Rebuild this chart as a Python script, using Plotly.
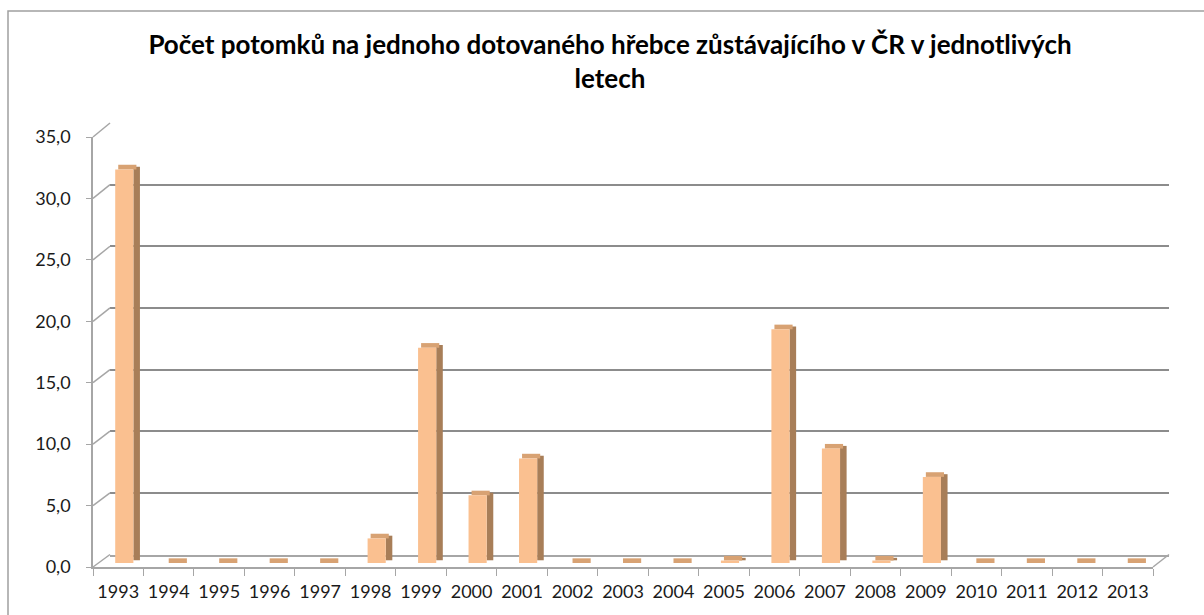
import plotly.graph_objects as go

# ---- data ----
years = ["1993", "1994", "1995", "1996", "1997", "1998", "1999", "2000", "2001", "2002",
         "2003", "2004", "2005", "2006", "2007", "2008", "2009", "2010", "2011", "2012", "2013"]
values = [32.0, 0, 0, 0, 0, 2.0, 17.5, 5.5, 8.5, 0, 0, 0, 0.2, 19.0, 9.3, 0.2, 7.0, 0, 0, 0, 0]
y_ticks = [0, 5, 10, 15, 20, 25, 30, 35]
title = "Počet potomků na jednoho dotovaného hřebce zůstávajícího v ČR v jednotlivých<br>letech"

W, H = 1204, 615
def fx(p):
    return p / W
def fy(p):
    return 1 - p / H

FRONT = "#FAC090"
SIDE = "#A87E58"
TOP = "#D8A273"
GRID = "#8C8C8C"
AXIS = "#A6A6A6"
FONT = "Lato"

n = len(years)
fig = go.Figure()

# back-wall grid subplot (x / y)
fig.add_trace(go.Scatter(x=years, y=values, mode="markers", marker=dict(opacity=0),
                         showlegend=False, hoverinfo="skip", xaxis="x", yaxis="y"))

# bars subplot (x2 / y2)
fig.add_trace(go.Bar(x=years, y=values, base=[0.22] * n, width=0.13, offset=0.30,
                     marker=dict(color=SIDE, line=dict(width=0)), showlegend=False,
                     hoverinfo="skip", xaxis="x2", yaxis="y2"))
fig.add_trace(go.Bar(x=years, y=[0.38] * n, base=values, width=0.36, offset=0.0,
                     marker=dict(color=TOP, line=dict(width=0)), showlegend=False,
                     hoverinfo="skip", xaxis="x2", yaxis="y2"))
fig.add_trace(go.Bar(x=years, y=values, width=0.36, offset=-0.06,
                     marker=dict(color=FRONT, line=dict(width=0)), showlegend=False,
                     xaxis="x2", yaxis="y2"))

# front labels subplot (x3 / y3)
fig.add_trace(go.Scatter(x=years, y=values, mode="markers", marker=dict(opacity=0),
                         showlegend=False, hoverinfo="skip", xaxis="x3", yaxis="y3"))

common_x = dict(type="category", categoryorder="array", categoryarray=years,
                range=[-0.5, n - 0.5], fixedrange=True, automargin=False)

fig.update_layout(
    template="none",
    width=W, height=H, autosize=False,
    margin=dict(l=0, r=0, t=0, b=0, pad=0, autoexpand=False),
    paper_bgcolor="white", plot_bgcolor="rgba(0,0,0,0)",
    separators=", ",
    barmode="overlay",
    showlegend=False,
    font=dict(family=FONT, color="#1a1a1a"),
    title=dict(text=title, x=610 / W, xanchor="center", y=fy(54), yanchor="middle",
               yref="container", automargin=False,
               font=dict(family=FONT, size=26, color="#000000", weight="bold")),
    xaxis=dict(common_x, domain=[fx(110), fx(1169)], anchor="y", showticklabels=False,
               showgrid=False, zeroline=False, showline=True, linecolor=AXIS, linewidth=1.5,
               ticks=""),
    yaxis=dict(domain=[fy(554.5), fy(123)], range=[0, 35], anchor="x", tickvals=y_ticks,
               showticklabels=False, showgrid=True, gridcolor=GRID, gridwidth=2,
               zeroline=False, showline=False, ticks="", fixedrange=True, automargin=False),
    xaxis2=dict(common_x, domain=[fx(93), fx(1153)], anchor="y2", visible=False),
    yaxis2=dict(domain=[fy(563), fy(563 - 35 * 12.3)], range=[0, 35], anchor="x2",
                visible=False, fixedrange=True, automargin=False),
    xaxis3=dict(common_x, domain=[fx(93), fx(1153)], anchor="y3", showgrid=False,
                zeroline=False, showline=True, linecolor=AXIS, linewidth=1.5,
                ticks="outside", tickson="boundaries", ticklen=7, tickcolor=AXIS,
                ticklabelstandoff=8, tickangle=0,
                tickfont=dict(family=FONT, size=18, color="#1a1a1a")),
    yaxis3=dict(domain=[fy(567), fy(137)], range=[0, 35], anchor="x3", tickvals=y_ticks,
                tickformat=".1f", showgrid=False, zeroline=False, showline=True,
                linecolor=AXIS, linewidth=1.5, ticks="outside", ticklen=5, tickcolor=AXIS,
                ticklabelstandoff=12, automargin=False,
                tickfont=dict(family=FONT, size=18, color="#1a1a1a"), fixedrange=True),
)

# chart border
shapes = [dict(type="rect", xref="paper", yref="paper", x0=fx(8), x1=fx(1215),
               y0=fy(625), y1=fy(11), line=dict(color="#A0A0A0", width=1.5))]
# 3D depth connectors between front axis ticks and back wall gridlines
for t in y_ticks:
    shapes.append(dict(type="line", xref="paper", yref="paper",
                       x0=fx(93), x1=fx(110),
                       y0=fy(567 - t * 430 / 35), y1=fy(554.5 - t * 431.5 / 35),
                       line=dict(color=AXIS, width=1.5)))
shapes.append(dict(type="line", xref="paper", yref="paper", x0=fx(1153), x1=fx(1169),
                   y0=fy(567), y1=fy(554.5), line=dict(color=AXIS, width=1.5)))
fig.update_layout(shapes=shapes)

fig.write_html("out.html", config={"responsive": False, "displayModeBar": False},
               post_script="document.body.style.margin='0px';document.body.style.overflow='hidden';")
